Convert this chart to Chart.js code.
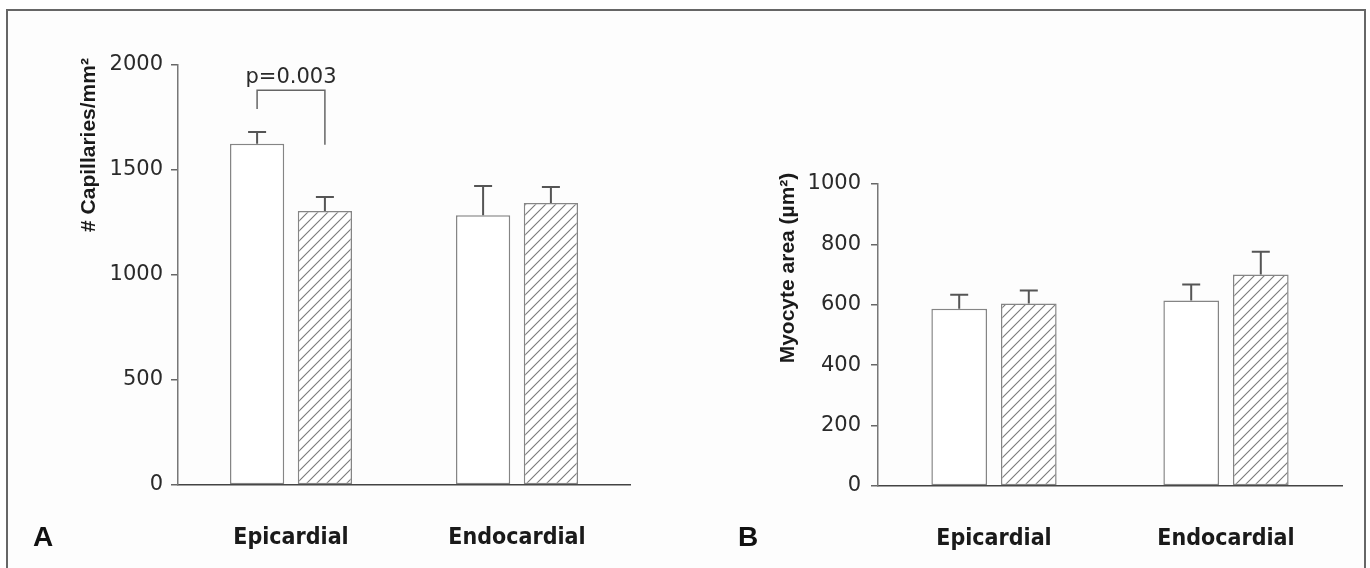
<!DOCTYPE html>
<html lang="en">
<head>
<meta charset="UTF-8">
<title>Capillary density and myocyte area</title>
<script src="https://cdn.jsdelivr.net/npm/chart.js"></script>
<style>
  html, body { margin: 0; padding: 0; background: #fff; overflow: hidden; }
  #frame { position: absolute; left: 6px; top: 9px; width: 1356px; height: 600px; border: 2px solid #666; border-bottom: none; background: #fdfdfd; }
  canvas { position: absolute; top: 0; }
  #panelA { left: 0; }
  #panelB { left: 690px; }
</style>
</head>
<body>
<div id="frame"></div>
<canvas id="panelA" width="690" height="568"></canvas>
<canvas id="panelB" width="680" height="568"></canvas>

<script>
// data
const categories = ['Epicardial', 'Endocardial'];

const capWhite = [1625, 1285];
const capWhiteErr = [56, 139];
const capHatched = [1305, 1343];
const capHatchedErr = [66, 76];
const capTicks = [0, 500, 1000, 1500, 2000];

const areaWhite = [587, 614];
const areaWhiteErr = [46, 53];
const areaHatched = [604, 700];
const areaHatchedErr = [43, 76];
const areaTicks = [0, 200, 400, 600, 800, 1000];

const pLabel = 'p=0.003';
const bracketTop = 1880;
const bracketLeftEnd = 1790;
const bracketRightEnd = 1620;

const condensed = '"Liberation Sans Narrow", "DejaVu Sans Condensed", sans-serif';

function hatch(ctx) {
    let tile = document.createElement('canvas');
    tile.width = 10; tile.height = 10;
    let g = tile.getContext('2d');
    g.fillStyle = '#fff';
    g.fillRect(0, 0, 10, 10);
    g.strokeStyle = '#7a7a7a';
    g.lineWidth = 1.1;
    g.beginPath();
    g.moveTo(0, 10); g.lineTo(10, 0);
    g.moveTo(-1, 1); g.lineTo(1, -1);
    g.moveTo(9, 11); g.lineTo(11, 9);
    g.stroke();
    return ctx.createPattern(tile, 'repeat');
}

// upper SEM whiskers
const errorBars = {
    id: 'errorBars',
    afterDatasetsDraw(chart) {
        let ctx = chart.ctx, y = chart.scales.y;
        ctx.save();
        ctx.strokeStyle = '#555';
        ctx.lineWidth = 2;
        chart.data.datasets.forEach((ds, i) => {
            chart.getDatasetMeta(i).data.forEach((bar, j) => {
                let top = y.getPixelForValue(ds.data[j] + ds.errors[j]);
                ctx.beginPath();
                ctx.moveTo(bar.x, bar.y);
                ctx.lineTo(bar.x, top);
                ctx.moveTo(bar.x - 9, top);
                ctx.lineTo(bar.x + 9, top);
                ctx.stroke();
            });
        });
        ctx.restore();
    }
};

// axis title, panel letter and the significance bracket
const extras = {
    id: 'extras',
    afterDraw(chart, args, o) {
        let ctx = chart.ctx;
        ctx.save();
        ctx.fillStyle = '#1a1a1a';
        ctx.font = 'bold 21px "Liberation Sans", Arial, sans-serif';
        ctx.textAlign = 'center';
        ctx.textBaseline = 'middle';
        ctx.translate(o.titleX, o.titleY);
        ctx.rotate(-Math.PI / 2);
        ctx.fillText(o.title, 0, 0);
        ctx.restore();

        ctx.save();
        ctx.fillStyle = '#111';
        ctx.font = 'bold 28px "Liberation Sans", Arial, sans-serif';
        ctx.textBaseline = 'alphabetic';
        ctx.fillText(o.letter, o.letterX, 546);
        ctx.restore();

        if (o.bracket) {
            let y = chart.scales.y;
            let x1 = chart.getDatasetMeta(0).data[0].x;
            let x2 = chart.getDatasetMeta(1).data[0].x;
            let yTop = y.getPixelForValue(bracketTop);
            ctx.save();
            ctx.strokeStyle = '#666';
            ctx.lineWidth = 1.5;
            ctx.beginPath();
            ctx.moveTo(x1, y.getPixelForValue(bracketLeftEnd));
            ctx.lineTo(x1, yTop);
            ctx.lineTo(x2, yTop);
            ctx.lineTo(x2, y.getPixelForValue(bracketRightEnd));
            ctx.stroke();
            ctx.fillStyle = '#2a2a2a';
            ctx.font = '21px "DejaVu Sans", sans-serif';
            ctx.textAlign = 'center';
            ctx.textBaseline = 'alphabetic';
            ctx.fillText(pLabel, (x1 + x2) / 2, yTop - 7);
            ctx.restore();
        }
    }
};

function panel(id, white, whiteErr, hatched, hatchedErr, ticks, geom, extraOpts) {
    let ctx = document.getElementById(id).getContext('2d');
    return new Chart(ctx, {
        type: 'bar',
        data: {
            labels: categories,
            datasets: [
                { data: white, errors: whiteErr, backgroundColor: '#fff', borderColor: '#858585',
                  borderWidth: 1.5, borderSkipped: false, categoryPercentage: 0.6, barPercentage: 0.8 },
                { data: hatched, errors: hatchedErr, backgroundColor: hatch(ctx), borderColor: '#858585',
                  borderWidth: 1.5, borderSkipped: false, categoryPercentage: 0.6, barPercentage: 0.8 }
            ]
        },
        options: {
            responsive: false,
            animation: false,
            layout: { padding: { top: geom.top, right: geom.right, left: 0, bottom: 0 } },
            plugins: {
                legend: { display: false },
                tooltip: { enabled: false },
                extras: extraOpts
            },
            scales: {
                x: {
                    grid: { display: false },
                    border: { color: '#444', width: 1.5 },
                    ticks: { padding: 31, color: '#1a1a1a', font: { family: condensed, weight: 'bold', size: 23 } },
                    afterFit: s => { s.height = 568 - geom.bottom; }
                },
                y: {
                    min: 0,
                    max: ticks[ticks.length - 1],
                    afterBuildTicks: s => { s.ticks = ticks.map(v => ({ value: v })); },
                    grid: { drawOnChartArea: false, tickLength: 7, color: '#666', lineWidth: 1.5 },
                    border: { color: '#777', width: 1.5 },
                    ticks: {
                        padding: geom.tickPad, color: '#2a2a2a',
                        font: { family: '"DejaVu Sans", sans-serif', size: 21 },
                        callback: v => String(v)
                    },
                    afterFit: s => { s.width = geom.left; }
                }
            }
        },
        plugins: [errorBars, extras]
    });
}

panel('panelA', capWhite, capWhiteErr, capHatched, capHatchedErr, capTicks,
    { left: 178, right: 60, top: 65, bottom: 485, tickPad: 8 },
    { title: '# Capillaries/mm²', titleX: 89, titleY: 145, letter: 'A', letterX: 33, bracket: true });

panel('panelB', areaWhite, areaWhiteErr, areaHatched, areaHatchedErr, areaTicks,
    { left: 188, right: 28, top: 184, bottom: 486, tickPad: 10 },
    { title: 'Myocyte area (µm²)', titleX: 98, titleY: 268, letter: 'B', letterX: 48, bracket: false });
</script>
</body>
</html>
